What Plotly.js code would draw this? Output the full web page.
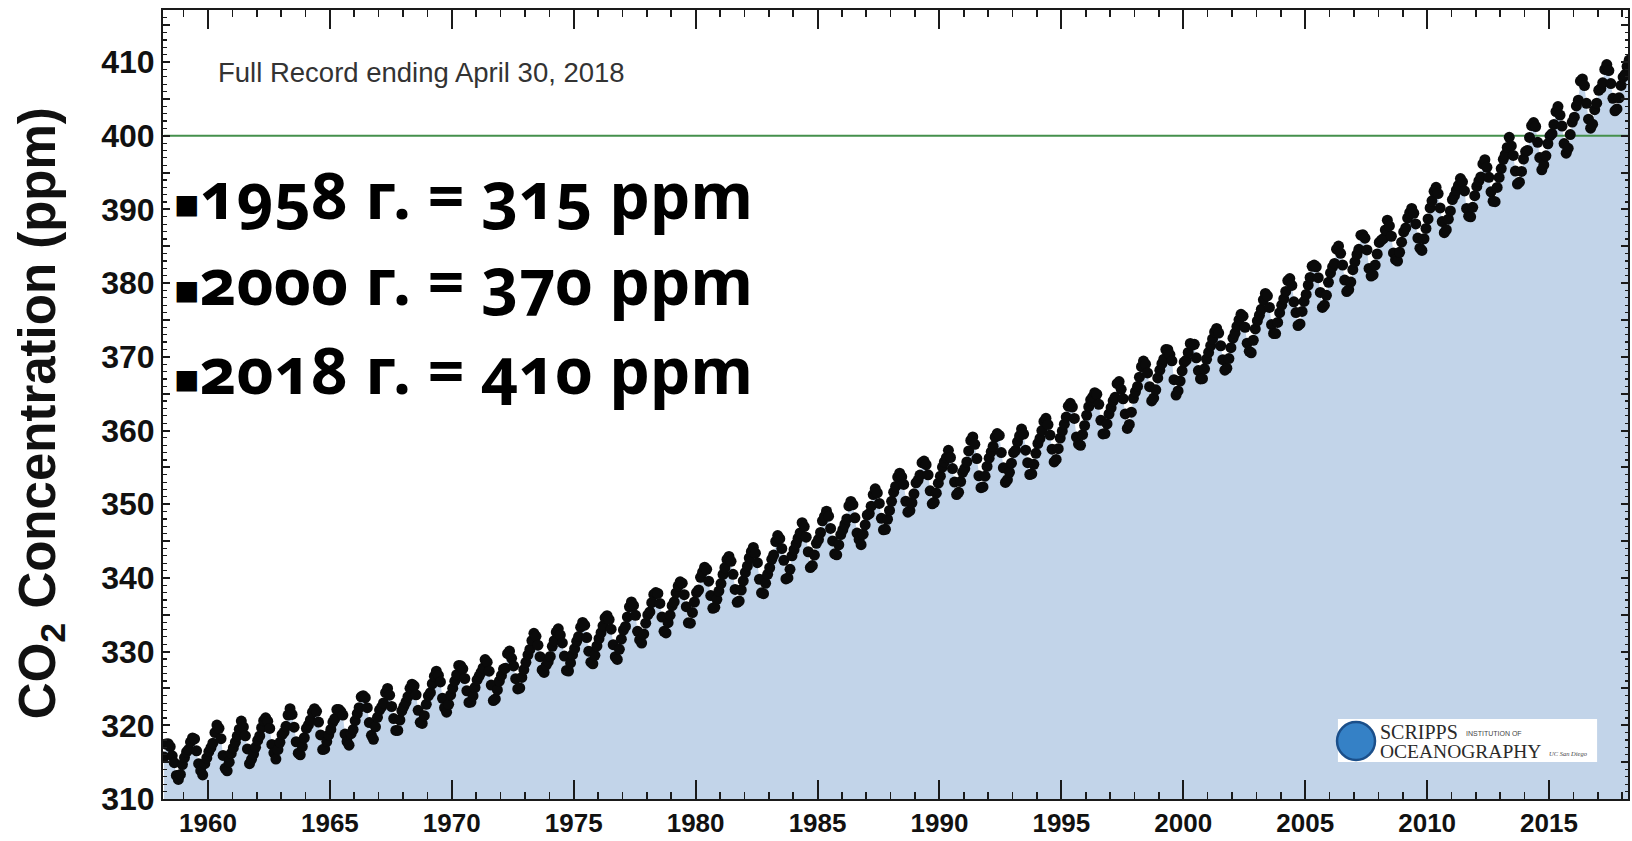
<!DOCTYPE html>
<html>
<head>
<meta charset="utf-8">
<script src="https://cdn.plot.ly/plotly-3.0.1.min.js"></script>
<style>
  html, body { margin: 0; padding: 0; background: #fff; }
  .annotation-text { font-feature-settings: "onum" 1; }
</style>
</head>
<body>
<div id="chart" style="width:1632px;height:841px;"></div>
<script>
// Monthly mean CO2 at Mauna Loa (ppm)
var startYear = 1958, startMonth = 3;
var co2_1958_1959 = [315.71,317.45,317.50,317.10,315.86,314.93,313.20,312.66,313.33,314.67,
  315.62,316.38,316.71,317.72,318.29,318.15,316.54,314.80,313.84,313.26,314.80,315.58];
var co2_1960s = [
  316.43,316.97,317.58,319.02,320.03,319.59,318.18,315.91,314.16,313.83,315.00,316.19,
  316.93,317.70,318.54,319.48,320.58,319.77,318.57,316.79,314.80,315.38,316.10,317.01,
  317.94,318.56,319.68,320.63,321.01,320.55,319.58,317.40,316.26,315.42,316.69,317.69,
  318.74,319.08,319.86,321.39,322.25,321.47,319.74,317.77,316.21,315.99,317.12,318.31,
  319.57,320.07,320.73,321.77,322.25,321.89,320.44,318.70,316.70,316.79,317.79,318.71,
  319.44,320.44,320.89,322.13,322.16,321.87,321.39,318.81,317.81,317.30,318.87,319.42,
  320.62,321.59,322.39,323.87,324.01,323.75,322.39,320.37,318.64,318.10,319.79,321.08,
  322.07,322.50,323.04,324.42,325.00,324.09,322.55,320.92,319.31,319.31,320.72,321.96,
  322.57,323.15,323.89,325.02,325.57,325.36,324.14,322.03,320.41,320.25,321.31,322.84,
  324.00,324.42,325.64,326.66,327.34,326.76,325.88,323.67,322.38,321.78,322.85,324.12];
var co2_1970s = [
  325.03,325.99,326.87,328.13,328.07,327.66,326.35,324.69,323.10,323.16,323.98,325.13,
  326.17,326.68,327.18,327.78,328.92,328.57,327.34,325.46,323.36,323.57,324.80,326.01,
  326.77,327.63,327.75,329.72,330.07,329.09,328.05,326.32,324.93,325.06,326.50,327.55,
  328.54,329.56,330.30,331.50,332.48,332.07,330.87,329.31,327.51,327.18,328.16,328.64,
  329.35,330.71,331.48,332.65,333.09,332.25,331.18,329.40,327.44,327.37,328.46,329.58,
  330.40,331.40,332.04,333.31,333.96,333.59,331.91,330.06,328.56,328.34,329.49,330.76,
  331.75,332.56,333.50,334.58,334.87,334.34,333.05,330.94,329.30,328.94,330.31,331.68,
  332.93,333.42,334.70,336.07,336.74,336.27,334.93,332.75,331.58,331.16,332.40,333.85,
  334.97,335.39,336.64,337.76,338.01,337.89,336.54,334.68,332.76,332.54,333.92,334.95,
  336.23,336.76,337.96,338.89,339.47,339.29,337.73,336.09,333.91,333.86,335.29,336.73];
var co2_1980s = [
  338.01,338.36,340.08,340.77,341.46,341.17,339.56,337.60,335.88,336.01,337.10,338.21,
  339.23,340.47,341.38,342.51,342.91,342.25,340.49,338.43,336.69,336.85,338.36,339.61,
  340.75,341.61,342.70,343.56,344.13,343.35,342.06,339.82,337.97,337.86,339.26,340.49,
  341.38,342.52,343.10,344.94,345.75,345.32,343.99,342.39,339.86,339.99,341.16,342.99,
  343.82,344.63,345.38,346.11,347.49,346.96,345.53,343.55,341.40,341.67,343.10,344.70,
  345.21,346.16,347.74,348.34,349.06,348.38,346.72,345.02,343.27,343.13,344.49,345.88,
  346.56,347.28,348.01,349.77,350.38,349.93,348.16,346.08,345.22,344.51,345.93,347.21,
  348.52,348.73,349.73,351.31,352.09,351.53,350.11,348.08,346.52,346.59,347.96,349.16,
  350.39,351.64,352.41,353.69,354.21,353.72,352.69,350.40,348.92,349.13,350.20,351.41,
  352.91,353.27,353.96,355.64,355.86,355.37,353.99,351.81,350.05,350.25,351.49,352.85];
var co2_1990s = [
  353.80,355.04,355.73,356.32,357.32,356.34,354.84,353.01,351.31,351.62,353.07,354.33,
  354.84,355.73,357.23,358.66,359.13,358.13,356.19,353.85,352.25,352.35,353.81,355.12,
  356.25,357.11,357.86,359.09,359.59,359.33,357.01,354.94,352.96,353.32,354.32,355.57,
  357.00,357.31,358.47,359.27,360.19,359.52,357.33,355.64,354.03,354.12,355.41,356.91,
  358.24,358.92,359.99,361.23,361.65,360.81,359.38,357.46,355.73,356.07,357.53,358.98,
  359.92,360.86,361.83,363.30,363.69,363.19,361.64,359.12,358.17,357.99,359.45,360.68,
  362.07,363.24,364.17,364.57,365.13,364.92,363.55,361.38,359.54,359.58,360.89,362.24,
  363.09,364.03,364.51,366.35,366.64,365.59,364.31,362.25,360.29,360.82,362.49,364.38,
  365.26,365.98,367.24,368.66,369.42,368.99,367.82,365.95,364.02,364.40,365.52,367.13,
  368.18,369.07,369.68,370.99,370.96,370.30,369.45,366.90,364.81,365.37,366.72,368.10];
var co2_2000s = [
  369.29,369.54,370.60,371.82,371.58,371.70,369.86,368.13,367.00,367.03,368.37,369.67,
  370.59,371.51,372.43,373.37,373.85,373.22,371.50,369.61,368.18,368.45,369.76,371.24,
  372.53,373.20,374.12,375.02,375.76,375.52,374.01,371.85,370.75,370.55,372.25,373.79,
  374.88,375.64,376.45,377.73,378.60,378.28,376.70,374.38,373.17,373.15,374.66,375.99,
  377.00,377.87,378.88,380.35,380.62,379.69,377.47,376.01,374.25,374.46,376.16,377.51,
  378.46,379.73,380.77,382.29,382.45,382.21,380.74,378.74,376.70,377.00,378.35,380.11,
  381.38,382.19,382.67,384.61,385.03,384.05,382.46,380.41,378.85,379.13,380.15,381.82,
  382.89,383.90,384.58,386.50,386.56,386.10,384.50,381.99,380.96,381.12,382.45,383.95,
  385.52,385.82,386.03,387.21,388.54,387.76,386.36,384.09,383.18,382.99,384.19,385.56,
  386.94,387.48,388.82,389.55,390.14,389.48,388.03,386.11,384.74,384.43,386.02,387.42];
var co2_2010s = [
  388.71,390.20,391.17,392.46,393.00,392.15,390.20,388.35,386.85,387.24,388.67,389.79,
  391.33,391.86,392.60,393.25,394.19,393.74,392.51,390.13,389.08,389.00,390.28,391.86,
  393.12,393.86,394.40,396.18,396.74,395.71,394.36,392.39,391.11,391.05,392.98,394.34,
  395.55,396.80,397.43,398.41,399.78,398.61,397.32,395.20,393.45,393.70,395.16,396.84,
  397.85,398.01,399.77,401.38,401.78,401.25,399.10,397.03,395.38,396.03,397.28,398.91,
  399.98,400.28,401.54,403.28,403.96,402.80,401.31,398.93,397.63,398.29,400.16,401.85,
  402.52,404.04,404.83,407.42,407.70,406.81,404.39,402.25,401.03,401.57,403.53,404.42,
  406.17,406.42,407.18,409.00,409.65,408.84,407.07,405.07,403.38,403.64,405.14,406.83,
  407.96,408.32,409.41,410.24];

var referenceLevel = 400;
var yTickValues = [310,315,320,325,330,335,340,345,350,355,360,365,370,375,380,385,390,395,400,405,410,415];
var yTickLabels = ['310',' ','320',' ','330',' ','340',' ','350',' ','360',' ','370',' ','380',' ','390',' ','400',' ','410',' '];
var noteText = 'Full Record ending April 30, 2018';
var bulletLines = ['1958 г. = 315 ppm', '2000 г. = 370 ppm', '2018 г. = 410 ppm'];
var yTitle = 'CO<sub>2</sub> Concentration (ppm)';

var co2 = [].concat(co2_1958_1959, co2_1960s, co2_1970s, co2_1980s, co2_1990s, co2_2000s, co2_2010s);
var dates = co2.map(function (v, i) {
  var m = startMonth - 1 + i;
  var y = startYear + Math.floor(m / 12);
  var mm = (m % 12) + 1;
  return y + '-' + (mm < 10 ? '0' + mm : mm) + '-15';
});

var traces = [
  { x: dates, y: co2, type: 'scatter', mode: 'lines', line: { width: 0, color: 'rgba(0,0,0,0)' },
    fill: 'tozeroy', fillcolor: '#c2d4e9', hoverinfo: 'skip', showlegend: false },
  { x: [dates[0], dates[dates.length - 1]], y: [referenceLevel, referenceLevel], type: 'scatter', mode: 'lines',
    line: { color: '#45904c', width: 2.2 }, showlegend: false, hoverinfo: 'skip' },
  { x: dates, y: co2, type: 'scatter', mode: 'markers',
    marker: { color: '#0a0a0a', size: 11, line: { width: 0 } }, showlegend: false }
];

var axisColor = '#1a1a1a';
var bulletFont = { family: 'Noto Sans, sans-serif', size: 64, weight: 'bold', color: '#000' };
function bulletText(s) {
  return '<span style="font-size:42px">■</span>' + s;
}
var layout = {
  width: 1632, height: 841,
  margin: { l: 163, r: 4, t: 10, b: 42 },
  paper_bgcolor: '#ffffff', plot_bgcolor: '#ffffff',
  showlegend: false,
  xaxis: {
    type: 'date',
    range: ['1958-02-27', '2018-03-29'],
    tick0: '1960-01-01', dtick: 'M60', tickformat: '%Y',
    ticks: 'inside', ticklen: 19, tickwidth: 2, tickcolor: axisColor,
    minor: { dtick: 'M12', tick0: '1960-01-01', ticks: 'inside', ticklen: 7, tickwidth: 1.6, tickcolor: axisColor, showgrid: false },
    showline: true, linewidth: 2, linecolor: axisColor, mirror: 'allticks',
    showgrid: false, zeroline: false,
    tickfont: { family: 'Liberation Sans, Arial, sans-serif', size: 26, weight: 'bold', color: '#111' }
  },
  yaxis: {
    range: [310, 417.06],
    tickmode: 'array', tickvals: yTickValues, ticktext: yTickLabels,
    ticks: 'inside', ticklen: 7, tickwidth: 2, tickcolor: axisColor,
    minor: { tickmode: 'linear', tick0: 310, dtick: 1, ticks: 'inside', ticklen: 3.5, tickwidth: 1.2, tickcolor: axisColor, showgrid: false },
    showline: true, linewidth: 2, linecolor: axisColor, mirror: 'allticks',
    showgrid: false, zeroline: false,
    tickfont: { family: 'Liberation Sans, Arial, sans-serif', size: 32, weight: 'bold', color: '#111' }
  },
  shapes: [
    { type: 'rect', xref: 'paper', yref: 'paper', x0: 0.8020, x1: 0.9789, y0: 0.0469, y1: 0.1014,
      fillcolor: '#ffffff', line: { width: 0 } },
    { type: 'circle', xref: 'paper', yref: 'paper', x0: 0.8014, x1: 0.8273, y0: 0.0494, y1: 0.0976,
      fillcolor: '#3581c6', line: { color: '#1b4f8a', width: 2.5 } }
  ],
  annotations: [
    { xref: 'paper', yref: 'paper', x: -0.0833, y: 0.489, xanchor: 'center', yanchor: 'middle',
      text: yTitle, textangle: -90, showarrow: false,
      font: { family: 'Liberation Sans, Arial, sans-serif', size: 51, weight: 'bold', color: '#111' } },
    { xref: 'paper', yref: 'paper', x: 0.0365, y: 0.921, xanchor: 'left', yanchor: 'middle',
      text: noteText, showarrow: false,
      font: { family: 'Liberation Sans, Arial, sans-serif', size: 27.5, color: '#333' } },
    { xref: 'paper', yref: 'paper', x: 0.006, y: 0.766, xanchor: 'left', yanchor: 'middle',
      text: bulletText(bulletLines[0]), showarrow: false, font: bulletFont },
    { xref: 'paper', yref: 'paper', x: 0.006, y: 0.657, xanchor: 'left', yanchor: 'middle',
      text: bulletText(bulletLines[1]), showarrow: false, font: bulletFont },
    { xref: 'paper', yref: 'paper', x: 0.006, y: 0.544, xanchor: 'left', yanchor: 'middle',
      text: bulletText(bulletLines[2]), showarrow: false, font: bulletFont },
    { xref: 'paper', yref: 'paper', x: 0.8294, y: 0.0849, xanchor: 'left', yanchor: 'middle',
      text: 'SCRIPPS', showarrow: false,
      font: { family: 'Liberation Serif, serif', size: 20, color: '#2a2a2a' } },
    { xref: 'paper', yref: 'paper', x: 0.8880, y: 0.0830, xanchor: 'left', yanchor: 'middle',
      text: 'INSTITUTION OF', showarrow: false,
      font: { family: 'Liberation Sans, sans-serif', size: 7, color: '#444' } },
    { xref: 'paper', yref: 'paper', x: 0.8294, y: 0.0608, xanchor: 'left', yanchor: 'middle',
      text: 'OCEANOGRAPHY', showarrow: false,
      font: { family: 'Liberation Serif, serif', size: 19.5, color: '#2a2a2a' } },
    { xref: 'paper', yref: 'paper', x: 0.9450, y: 0.0575, xanchor: 'left', yanchor: 'middle',
      text: '<i>UC San Diego</i>', showarrow: false,
      font: { family: 'Liberation Serif, serif', size: 6.5, color: '#444' } }
  ]
};

Plotly.newPlot('chart', traces, layout, { displayModeBar: false, staticPlot: true });
</script>
</body>
</html>
